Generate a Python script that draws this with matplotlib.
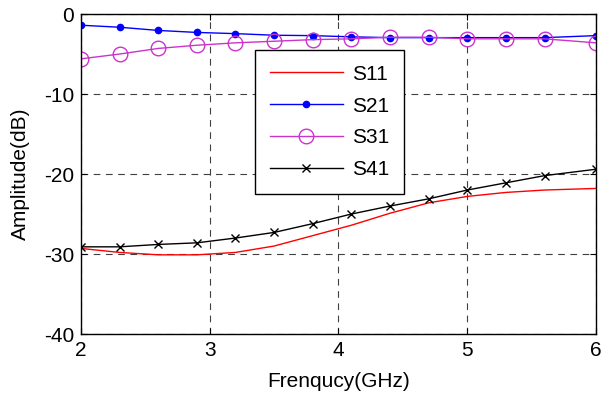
import numpy as np
import matplotlib.pyplot as plt

plt.rcParams['font.family'] = ['Liberation Sans', 'DejaVu Sans']
plt.rcParams['axes.unicode_minus'] = False

freq = [2.0, 2.3, 2.6, 2.9, 3.2, 3.5, 3.8, 4.1, 4.4, 4.7, 5.0, 5.3, 5.6, 6.0]
s11 = [-29.3, -29.8, -30.1, -30.1, -29.8, -29.0, -27.7, -26.4, -24.9, -23.6, -22.8, -22.3, -22.0, -21.8]
s21 = [-1.4, -1.65, -2.05, -2.3, -2.45, -2.65, -2.7, -2.85, -2.95, -2.95, -2.95, -2.95, -2.95, -2.7]
s31 = [-5.6, -5.0, -4.3, -3.9, -3.6, -3.4, -3.2, -3.1, -2.9, -2.9, -3.1, -3.1, -3.1, -3.6]
s41 = [-29.1, -29.1, -28.8, -28.6, -28.0, -27.3, -26.2, -25.0, -24.0, -23.1, -22.0, -21.1, -20.2, -19.4]

fig = plt.figure(figsize=(6.03, 4.01), dpi=100)
ax = fig.add_axes([0.1343, 0.167, 0.8541, 0.798])

ax.plot(freq, s11, color='red', lw=1.0, label='S11')
ax.plot(freq, s21, color='blue', lw=1.0, marker='o', markersize=4.5, label='S21')
ax.plot(freq, s31, color='#cc33cc', lw=1.0, marker='o', markersize=10.5,
        markerfacecolor='none', markeredgewidth=1.0, label='S31')
ax.plot(freq, s41, color='black', lw=1.0, marker='x', markersize=5.5, label='S41')

ax.set_xlim(2, 6)
ax.set_ylim(-40, 0)
ax.set_xticks([2, 3, 4, 5, 6])
ax.set_yticks([-40, -30, -20, -10, 0])
ax.grid(True, linestyle=(0, (6, 5)), color='#404040', lw=0.8)
ax.tick_params(direction='in', top=True, right=True, labelsize=15, length=4, pad=5)
for s in ax.spines.values():
    s.set_linewidth(1.0)

ax.set_xlabel('Frenqucy(GHz)', fontsize=15, labelpad=9)
ax.set_ylabel('Amplitude(dB)', fontsize=15, labelpad=10)

leg = ax.legend(loc='upper left', bbox_to_anchor=(0.338, 0.8875), fontsize=15,
                handlelength=3.5, fancybox=False, framealpha=1, borderaxespad=0,
                edgecolor='black', borderpad=0.7, labelspacing=0.62, handletextpad=0.45)
leg.get_frame().set_linewidth(1.0)

plt.savefig('out.png', dpi=100)
